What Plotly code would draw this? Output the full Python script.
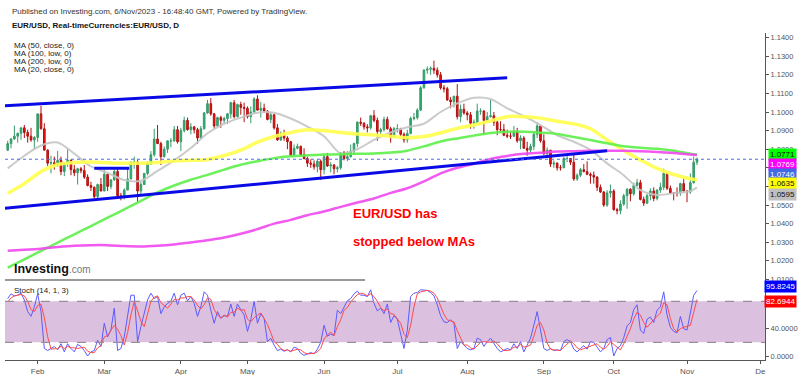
import plotly.graph_objects as go
import pandas as pd

# ---------------- data ----------------
dates = pd.bdate_range("2023-01-19", "2023-11-06")  # daily trading sessions

opens = [1.0795,1.0830,1.0855,1.0870,1.0885,1.0915,1.0890,1.0870,1.0850,1.0863,
1.0990,1.0910,1.0795,1.0725,1.0727,1.0713,1.0740,1.0680,1.0725,1.0740,
1.0690,1.0673,1.0695,1.0685,1.0650,1.0605,1.0595,1.0545,1.0610,1.0575,
1.0665,1.0600,1.0635,1.0680,1.0550,1.0545,1.0580,1.0640,1.0730,1.0730,
1.0575,1.0610,1.0670,1.0720,1.0770,1.0855,1.0830,1.0760,1.0800,1.0845,
1.0845,1.0905,1.0840,1.0900,1.0955,1.0905,1.0920,1.0905,1.0860,1.0910,
1.0995,1.1045,1.0990,1.0925,1.0970,1.0955,1.0965,1.0990,1.1050,1.0975,
1.1040,1.1025,1.1020,1.0975,1.1000,1.1070,1.1010,1.1020,1.1005,1.0960,
1.0985,1.0915,1.0850,1.0875,1.0860,1.0840,1.0770,1.0805,1.0815,1.0770,
1.0750,1.0725,1.0720,1.0705,1.0735,1.0690,1.0760,1.0710,1.0715,1.0695,
1.0700,1.0780,1.0750,1.0760,1.0790,1.0830,1.0945,1.0940,1.0920,1.0915,
1.0980,1.0955,1.0895,1.0905,1.0960,1.0910,1.0865,1.0910,1.0910,1.0880,
1.0850,1.0885,1.0965,1.0970,1.1010,1.1130,1.1225,1.1230,1.1235,1.1225,
1.1200,1.1130,1.1125,1.1065,1.1055,1.1085,1.0975,1.1015,1.0995,1.0985,
1.0940,1.0945,1.1005,1.1005,1.0955,1.0975,1.0980,1.0945,1.0905,1.0905,
1.0875,1.0870,1.0870,1.0895,1.0845,1.0860,1.0805,1.0795,1.0815,1.0880,
1.0925,1.0845,1.0775,1.0795,1.0720,1.0725,1.0700,1.0700,1.0750,1.0750,
1.0730,1.0640,1.0660,1.0690,1.0680,1.0665,1.0660,1.0650,1.0595,1.0570,
1.0500,1.0565,1.0575,1.0475,1.0470,1.0505,1.0550,1.0585,1.0560,1.0605,
1.0620,1.0530,1.0510,1.0550,1.0575,1.0535,1.0580,1.0595,1.0670,1.0590,
1.0565,1.0565,1.0565,1.0615,1.0575,1.0570,1.0620,1.0730]
highs = [1.0845,1.0860,1.0927,1.0890,1.0915,1.0930,1.0905,1.0915,1.0870,1.0990,
1.1033,1.0940,1.0800,1.0765,1.0760,1.0790,1.0760,1.0730,1.0805,1.0745,
1.0715,1.0700,1.0705,1.0715,1.0665,1.0625,1.0600,1.0615,1.0645,1.0690,
1.0665,1.0640,1.0695,1.0695,1.0565,1.0590,1.0700,1.0735,1.0760,1.0745,
1.0625,1.0670,1.0735,1.0790,1.0910,1.0930,1.0840,1.0815,1.0845,1.0860,
1.0925,1.0925,1.0915,1.0975,1.0970,1.0940,1.0925,1.0915,1.0925,1.1000,
1.1065,1.1075,1.0995,1.0975,1.0980,1.0975,1.0995,1.1055,1.1065,1.1045,
1.1055,1.1050,1.1030,1.1030,1.1080,1.1090,1.1055,1.1045,1.1010,1.1000,
1.0990,1.0935,1.0895,1.0905,1.0870,1.0845,1.0825,1.0830,1.0820,1.0805,
1.0760,1.0745,1.0740,1.0745,1.0745,1.0775,1.0780,1.0730,1.0720,1.0710,
1.0785,1.0790,1.0790,1.0825,1.0835,1.0950,1.0970,1.0945,1.0935,1.0985,
1.1010,1.0970,1.0915,1.0975,1.0975,1.0920,1.0920,1.0935,1.0915,1.0890,
1.0905,1.0975,1.0995,1.1020,1.1140,1.1230,1.1245,1.1245,1.1276,1.1240,
1.1215,1.1145,1.1135,1.1080,1.1085,1.1150,1.1040,1.1045,1.1005,1.1000,
1.0960,1.1045,1.1020,1.1010,1.1000,1.1065,1.1000,1.0955,1.0950,1.0935,
1.0905,1.0895,1.0925,1.0915,1.0875,1.0870,1.0840,1.0830,1.0895,1.0945,
1.0930,1.0880,1.0810,1.0795,1.0740,1.0730,1.0715,1.0760,1.0770,1.0750,
1.0770,1.0670,1.0700,1.0720,1.0735,1.0675,1.0680,1.0655,1.0610,1.0575,
1.0580,1.0610,1.0585,1.0485,1.0525,1.0560,1.0590,1.0590,1.0620,1.0640,
1.0635,1.0545,1.0560,1.0590,1.0595,1.0585,1.0620,1.0695,1.0675,1.0605,
1.0570,1.0595,1.0620,1.0640,1.0580,1.0670,1.0760,1.0755]
lows = [1.0790,1.0805,1.0850,1.0835,1.0850,1.0860,1.0835,1.0840,1.0800,1.0840,
1.0905,1.0795,1.0710,1.0670,1.0690,1.0705,1.0660,1.0655,1.0705,1.0660,
1.0655,1.0610,1.0670,1.0640,1.0600,1.0575,1.0535,1.0535,1.0575,1.0575,
1.0575,1.0585,1.0630,1.0545,1.0525,1.0530,1.0580,1.0640,1.0695,1.0515,
1.0550,1.0610,1.0660,1.0715,1.0760,1.0835,1.0715,1.0755,1.0780,1.0810,
1.0840,1.0830,1.0790,1.0890,1.0900,1.0880,1.0885,1.0830,1.0855,1.0905,
1.0990,1.0980,1.0910,1.0925,1.0915,1.0935,1.0935,1.0965,1.0965,1.0970,
1.0985,1.0945,1.0965,1.0940,1.0995,1.1010,1.0970,1.0995,1.0955,1.0940,
1.0905,1.0845,1.0845,1.0845,1.0800,1.0760,1.0760,1.0800,1.0760,1.0745,
1.0705,1.0700,1.0690,1.0675,1.0635,1.0665,1.0705,1.0675,1.0665,1.0675,
1.0690,1.0740,1.0735,1.0755,1.0770,1.0810,1.0925,1.0905,1.0890,1.0905,
1.0945,1.0845,1.0880,1.0895,1.0905,1.0835,1.0865,1.0890,1.0870,1.0835,
1.0835,1.0880,1.0955,1.0960,1.1005,1.1125,1.1205,1.1200,1.1205,1.1185,
1.1120,1.1105,1.1060,1.1020,1.1025,1.0960,1.0945,1.0985,1.0955,1.0910,
1.0910,1.0935,1.0985,1.0880,1.0950,1.0970,1.0925,1.0875,1.0895,1.0870,
1.0860,1.0855,1.0865,1.0835,1.0800,1.0805,1.0765,1.0785,1.0795,1.0860,
1.0835,1.0770,1.0770,1.0705,1.0700,1.0685,1.0685,1.0700,1.0730,1.0715,
1.0630,1.0630,1.0650,1.0675,1.0660,1.0615,1.0615,1.0575,1.0565,1.0490,
1.0490,1.0540,1.0470,1.0450,1.0450,1.0495,1.0480,1.0520,1.0550,1.0600,
1.0525,1.0495,1.0505,1.0525,1.0520,1.0525,1.0565,1.0580,1.0580,1.0560,
1.0525,1.0545,1.0550,1.0565,1.0515,1.0560,1.0615,1.0715]
closes = [1.0830,1.0855,1.0870,1.0885,1.0915,1.0890,1.0870,1.0850,1.0863,1.0990,
1.0910,1.0795,1.0725,1.0727,1.0713,1.0740,1.0680,1.0725,1.0740,1.0690,
1.0673,1.0695,1.0685,1.0650,1.0605,1.0595,1.0545,1.0610,1.0575,1.0665,
1.0600,1.0635,1.0680,1.0550,1.0545,1.0580,1.0640,1.0730,1.0730,1.0575,
1.0610,1.0670,1.0720,1.0770,1.0855,1.0830,1.0760,1.0800,1.0845,1.0845,
1.0905,1.0840,1.0900,1.0955,1.0905,1.0920,1.0905,1.0860,1.0910,1.0995,
1.1045,1.0990,1.0925,1.0970,1.0955,1.0965,1.0990,1.1050,1.0975,1.1040,
1.1025,1.1020,1.0975,1.1000,1.1070,1.1010,1.1020,1.1005,1.0960,1.0985,
1.0915,1.0850,1.0875,1.0860,1.0840,1.0770,1.0805,1.0815,1.0770,1.0750,
1.0725,1.0720,1.0705,1.0735,1.0690,1.0760,1.0710,1.0715,1.0695,1.0700,
1.0780,1.0750,1.0760,1.0790,1.0830,1.0945,1.0940,1.0920,1.0915,1.0980,
1.0955,1.0895,1.0905,1.0960,1.0910,1.0865,1.0910,1.0910,1.0880,1.0850,
1.0885,1.0965,1.0970,1.1010,1.1130,1.1225,1.1230,1.1235,1.1225,1.1200,
1.1130,1.1125,1.1065,1.1055,1.1085,1.0975,1.1015,1.0995,1.0985,1.0940,
1.0945,1.1005,1.1005,1.0955,1.0975,1.0980,1.0945,1.0905,1.0905,1.0875,
1.0870,1.0870,1.0895,1.0845,1.0860,1.0805,1.0795,1.0815,1.0880,1.0925,
1.0845,1.0775,1.0795,1.0720,1.0725,1.0700,1.0700,1.0750,1.0750,1.0730,
1.0640,1.0660,1.0690,1.0680,1.0665,1.0660,1.0650,1.0595,1.0570,1.0500,
1.0565,1.0575,1.0475,1.0470,1.0505,1.0550,1.0585,1.0560,1.0605,1.0620,
1.0530,1.0510,1.0550,1.0575,1.0535,1.0580,1.0595,1.0670,1.0590,1.0565,
1.0565,1.0565,1.0615,1.0575,1.0570,1.0620,1.0730,1.0746]

# moving averages every 5 sessions (plus the last one)
ma_sessions = list(range(0, 206, 5)) + [207]
ma50_close = [1.0563,1.0615,1.0680,1.0718,1.0729,1.0731,1.0727,1.0724,1.0725,1.0729,
1.0737,1.0740,1.0745,1.0766,1.0795,1.0838,1.0868,1.0890,1.0905,1.0900,
1.0890,1.0882,1.0877,1.0870,1.0862,1.0868,1.0888,1.0912,1.0930,1.0952,
1.0975,1.0975,1.0967,1.0950,1.0936,1.0910,1.0850,1.0793,1.0742,1.0697,
1.0664,1.0641,1.0635]
ma100_low = [1.0163,1.0208,1.0253,1.0298,1.0342,1.0387,1.0432,1.0476,1.0522,1.0568,
1.0605,1.0636,1.0662,1.0690,1.0716,1.0735,1.0752,1.0762,1.0767,1.0771,
1.0773,1.0775,1.0777,1.0782,1.0792,1.0815,1.0841,1.0858,1.0873,1.0887,
1.0894,1.0894,1.0889,1.0882,1.0866,1.0849,1.0832,1.0816,1.0808,1.0802,
1.0792,1.0776,1.0771]
ma200_low = [1.0254,1.0259,1.0265,1.0274,1.0281,1.0284,1.0284,1.0279,1.0277,1.0281,
1.0288,1.0298,1.0310,1.0325,1.0345,1.0370,1.0400,1.0420,1.0445,1.0465,
1.0490,1.0513,1.0535,1.0565,1.0590,1.0627,1.0670,1.0700,1.0722,1.0748,
1.0764,1.0775,1.0781,1.0787,1.0789,1.0791,1.0792,1.0791,1.0789,1.0785,
1.0779,1.0772,1.0769]
ma20_close = [1.0697,1.0765,1.0820,1.0836,1.0776,1.0707,1.0673,1.0634,1.0630,1.0683,
1.0740,1.0806,1.0886,1.0937,1.0970,1.0996,1.0996,1.0965,1.0922,1.0870,
1.0777,1.0800,1.0850,1.0890,1.0918,1.0937,1.1000,1.1046,1.1076,1.1070,
1.1020,1.0978,1.0930,1.0875,1.0840,1.0796,1.0724,1.0660,1.0580,1.0554,
1.0563,1.0575,1.0595]

# Stochastic (14, 1, 3)
stoch_k = [84,91,88,89,92,82,65,58,72,91,
65,11,8,11,14,9,18,6,18,11,
6,17,14,8,0,6,8,23,14,48,
28,38,70,8,11,28,62,89,89,21,
43,65,82,92,84,87,62,72,77,80,
92,75,89,92,81,87,77,58,72,94,
89,67,48,65,55,59,58,76,58,76,
67,60,36,53,80,48,62,55,21,26,
16,8,10,7,9,6,13,11,4,1,
3,5,3,10,20,45,29,32,30,67,
62,71,81,84,91,95,89,89,87,97,
77,66,70,62,76,49,59,54,31,11,
38,87,92,93,97,96,96,93,88,75,
59,50,49,53,48,11,21,16,11,9,
11,26,24,14,21,26,18,11,6,8,
11,9,18,11,21,6,16,26,45,65,
38,11,8,11,8,9,8,21,24,21,
10,6,11,15,10,21,20,13,6,11,
24,27,0,11,15,27,44,49,68,75,
38,33,54,57,49,67,72,94,60,42,
36,34,58,40,38,63,89,95.8245]
stoch_d = [79,85,88,89,90,88,80,68,65,74,
76,56,28,10,11,11,14,11,14,12,
12,11,12,13,7,5,5,12,15,28,
30,38,45,39,30,16,34,60,80,66,
51,43,63,80,86,88,78,74,70,76,
83,82,85,85,87,87,82,74,69,75,
85,83,68,60,56,60,57,64,64,70,
67,68,54,50,56,60,63,55,46,34,
21,17,11,8,9,7,9,10,9,5,
3,3,4,6,11,25,31,35,30,43,
53,67,71,79,85,90,92,91,88,91,
87,80,71,66,69,62,61,54,48,32,
27,45,72,91,94,95,96,95,92,85,
74,61,53,51,50,37,27,16,16,12,
10,15,20,21,20,20,22,18,12,8,
8,9,13,13,17,13,14,16,29,45,
49,38,19,10,9,9,8,13,18,22,
18,12,9,11,12,15,17,18,13,10,
14,21,17,13,9,18,29,40,54,64,
60,49,42,48,53,58,63,78,75,55,
40,35,40,42,43,45,64,82.6944]

# hand-drawn trend lines: (session0, price0, session1, price1)
trend_lines = [(-1, 1.1033, 150, 1.1184),
               (-1, 1.0482, 180, 1.0792),
               (26, 1.0697, 36.5, 1.0697)]

month_labels = ["Feb", "Mar", "Apr", "May", "Jun", "Jul", "Aug", "Sep", "Oct", "Nov", "De"]
price_ticks = [1.01, 1.02, 1.03, 1.04, 1.05, 1.06, 1.07, 1.08, 1.09, 1.10, 1.11, 1.12, 1.13, 1.14]
stoch_ticks = [0, 40, 80]

last_price = closes[-1]

# ---------------- figure ----------------
n = len(closes)
xs = list(range(n))
ext = pd.bdate_range("2023-01-19", "2023-12-01")
tick_pos = [i for i in range(1, len(ext)) if ext[i].month != ext[i - 1].month]

FONT = "Liberation Sans, Arial, sans-serif"
W, H = 800, 375
L, R, T, B = 5, 35, 33, 15
PW, PH = W - L - R, H - T - B


def PX(x):
    return (x - L) / PW


def PY(y):
    return (H - B - y) / PH


split = PY(280)

# price labels hidden behind the coloured value tags in the original
hidden_price = {1.06, 1.07}
price_text = ["" if v in hidden_price else "%.4f" % v for v in price_ticks]
stoch_text = ["" if v == 80 else "%.4f" % v for v in stoch_ticks]

fig = go.Figure()

fig.add_trace(go.Candlestick(
    x=xs, open=opens, high=highs, low=lows, close=closes,
    increasing=dict(fillcolor="#1db46e", line=dict(color="#3a9a6a", width=1)),
    decreasing=dict(fillcolor="#ff1010", line=dict(color="#b01010", width=1)),
    whiskerwidth=0, showlegend=False, hoverinfo="skip",
    xaxis="x", yaxis="y"))

ma_x = ma_sessions
for vals, color, width in [(ma20_close, "#c6c6c6", 2),
                           (ma50_close, "#ffff4d", 3.5),
                           (ma100_low, "#5ef04a", 2.5),
                           (ma200_low, "#f048f0", 2.5)]:
    fig.add_trace(go.Scatter(x=ma_x, y=vals, mode="lines",
                             line=dict(color=color, width=width, shape="spline", smoothing=0.8),
                             opacity=0.9, showlegend=False, hoverinfo="skip",
                             xaxis="x", yaxis="y"))

for (x0, y0, x1, y1) in trend_lines:
    fig.add_trace(go.Scatter(x=[x0, x1], y=[y0, y1], mode="lines",
                             line=dict(color="#0a0ae6", width=3),
                             showlegend=False, hoverinfo="skip",
                             xaxis="x", yaxis="y"))

fig.add_trace(go.Scatter(x=xs, y=stoch_k, mode="lines",
                         line=dict(color="#5b5bff", width=1),
                         showlegend=False, hoverinfo="skip", xaxis="x", yaxis="y2"))
fig.add_trace(go.Scatter(x=xs, y=stoch_d, mode="lines",
                         line=dict(color="#ff4b4b", width=1),
                         showlegend=False, hoverinfo="skip", xaxis="x", yaxis="y2"))

x_lo = (L - 7.7) / 3.33
x_hi = (W - R - 7.7) / 3.33

fig.update_layout(
    width=W, height=H,
    margin=dict(l=L, r=R, t=T, b=B, pad=0, autoexpand=False),
    paper_bgcolor="white", plot_bgcolor="white",
    font=dict(family=FONT, size=8, color="#555"),
    showlegend=False,
    xaxis=dict(domain=[0, 1], range=[x_lo, x_hi], anchor="y2", automargin=False,
               rangeslider=dict(visible=False), showgrid=False, zeroline=False,
               showline=True, linecolor="#555", linewidth=1,
               ticks="outside", ticklen=3, tickcolor="#555",
               tickvals=tick_pos, ticktext=month_labels,
               tickfont=dict(size=8, color="#555")),
    yaxis=dict(domain=[split, 1], range=[1.05 - (280 - 205) / 1860, 1.05 + (205 - 33) / 1860],
               side="right", anchor="x", automargin=False, showgrid=False, zeroline=False,
               showline=True, linecolor="#555", linewidth=1,
               ticks="outside", ticklen=3, tickcolor="#555",
               tickvals=price_ticks, ticktext=price_text,
               tickfont=dict(size=7.5, color="#555")),
    yaxis2=dict(domain=[0, split], range=[(356 - 360) / 0.683, (356 - 280) / 0.683],
                side="right", anchor="x", automargin=False, showgrid=False, zeroline=False,
                showline=True, linecolor="#555", linewidth=1,
                ticks="outside", ticklen=3, tickcolor="#555",
                tickvals=stoch_ticks, ticktext=stoch_text,
                tickfont=dict(size=7.5, color="#555")),
)

shapes = [
    dict(type="rect", xref="paper", yref="y2", x0=0, x1=1, y0=20, y1=80,
         fillcolor="#dcc0df", line=dict(width=0), layer="below"),
    dict(type="line", xref="paper", yref="y2", x0=0, x1=1, y0=80, y1=80,
         line=dict(color="#9a8c9c", width=1.3, dash="dash")),
    dict(type="line", xref="paper", yref="y2", x0=0, x1=1, y0=20, y1=20,
         line=dict(color="#9a8c9c", width=1.3, dash="dash")),
    dict(type="line", xref="paper", yref="y", x0=0, x1=1, y0=last_price, y1=last_price,
         line=dict(color="#4a6fe0", width=1, dash="dot")),
    dict(type="line", xref="paper", yref="paper", x0=0, x1=PX(365), y0=split, y1=split,
         line=dict(color="#777", width=1.5)),
]
fig.update_layout(shapes=shapes)

ann = []


def text(x, y, s, size=8, color="#222", bold=False, xanchor="left"):
    ann.append(dict(x=PX(x), y=PY(y), xref="paper", yref="paper", text=("<b>%s</b>" % s) if bold else s,
                    showarrow=False, xanchor=xanchor, yanchor="middle",
                    font=dict(family=FONT, size=size, color=color)))


text(10, 12, "Published on Investing.com, 6/Nov/2023 - 16:48:40 GMT, Powered by TradingView.", 8, "#333")
text(10, 25, "EUR/USD, Real-timeCurrencies:EUR/USD, D", 8, "#111", bold=True)
for k, s in enumerate(["MA (50, close, 0)", "MA (100, low, 0)", "MA (200, low, 0)", "MA (20, close, 0)"]):
    text(12, 45 + 8.3 * k, s, 8, "#222")
text(12, 290, "Stoch (14, 1, 3)", 8, "#222")
text(351, 213, "EUR/USD has", 13, "#ff0000", bold=True)
text(351, 241, "stopped below MAs", 13, "#ff0000", bold=True)
ann.append(dict(x=PX(12), y=PY(269), xref="paper", yref="paper",
                text="<b>Investing</b><span style='font-size:10px;color:#777'>.com</span>",
                showarrow=False, xanchor="left", yanchor="middle",
                font=dict(family=FONT, size=12.5, color="#111")))

labels = [("%.4f" % ma100_low[-1], 154.7, "#00ff00", "#111"),
          ("%.4f" % ma200_low[-1], 164.3, "#ff00ff", "#ffffff"),
          ("%.4f" % last_price, 174.0, "#4169e1", "#ffffff"),
          ("%.4f" % ma50_close[-1], 183.7, "#ffff00", "#111"),
          ("%.4f" % ma20_close[-1], 194.0, "#c0c0c0", "#111"),
          ("%.4f" % stoch_k[-1], 286.7, "#0000ff", "#ffffff"),
          ("%.4f" % stoch_d[-1], 301.7, "#ff0000", "#ffffff")]
for s, y, bg, fc in labels:
    ann.append(dict(x=PX(797), y=PY(y), xref="paper", yref="paper", text=s,
                    showarrow=False, xanchor="right", yanchor="middle",
                    bgcolor=bg, borderpad=1,
                    font=dict(family=FONT, size=8, color=fc)))

fig.update_layout(annotations=ann)

fig.write_html("out.html",
               config={"displayModeBar": False},
               post_script="document.body.style.margin='0';document.body.style.overflow='hidden';")
